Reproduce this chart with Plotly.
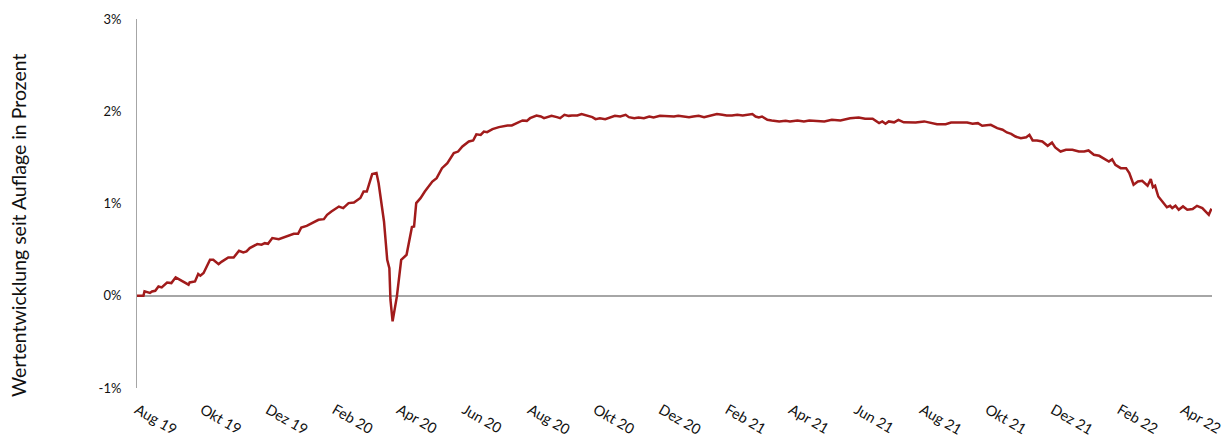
import pandas as pd
import plotly.graph_objects as go

# Inception date of the fund and series (days since inception, performance in %)
start_date = "2019-08-01"
days = [0, 6, 7, 12, 14, 17, 20, 23, 28, 32, 36, 40, 43, 48, 49, 54, 57, 59, 62, 65,
        68, 71, 76, 79, 85, 90, 95, 99, 102, 105, 112, 116, 119, 122, 126, 132, 136, 140,
        146, 150, 153, 158, 163, 169, 174, 177, 181, 188, 192, 197, 202, 208, 211, 214,
        219, 223, 225, 228, 230, 233, 235, 236, 238, 242, 246, 251, 254, 256, 258, 260,
        264, 268, 275, 279, 284, 289, 295, 299, 303, 309, 313, 316, 320, 323, 326, 331,
        337, 345, 349, 352, 359, 363, 366, 372, 376, 379, 383, 386, 391, 394, 398, 402,
        405, 410, 414, 419, 424, 427, 431, 436, 441, 445, 450, 455, 458, 463, 467, 472,
        477, 481, 487, 494, 500, 504, 509, 514, 518, 523, 528, 534, 540, 545, 549, 554,
        559, 564, 568, 573, 576, 579, 582, 587, 591, 598, 604, 608, 615, 621, 626, 632,
        640, 647, 655, 664, 672, 678, 685, 691, 694, 697, 700, 705, 709, 714, 720, 725,
        733, 739, 745, 753, 758, 764, 773, 778, 783, 787, 795, 801, 806, 810, 814, 818,
        823, 828, 831, 834, 838, 843, 848, 852, 855, 860, 865, 871, 877, 882, 886, 891,
        896, 900, 905, 908, 911, 916, 921, 924, 928, 932, 936, 941, 944, 946, 948, 951,
        956, 959, 962, 964, 967, 970, 974, 978, 983, 987, 992, 995, 998, 1000, 1001]
performance = [0.0, 0.0, 0.047, 0.03, 0.047, 0.054, 0.10, 0.09, 0.144, 0.137, 0.20, 0.173,
               0.155, 0.12, 0.144, 0.155, 0.235, 0.217, 0.246, 0.325, 0.39, 0.39, 0.343,
               0.37, 0.415, 0.415, 0.487, 0.47, 0.48, 0.517, 0.56, 0.553, 0.57, 0.563,
               0.625, 0.614, 0.632, 0.65, 0.672, 0.672, 0.74, 0.758, 0.787, 0.823, 0.83,
               0.877, 0.913, 0.967, 0.95, 1.004, 1.01, 1.06, 1.13, 1.13, 1.318, 1.33,
               1.22, 0.967, 0.805, 0.39, 0.30, -0.043, -0.278, -0.007, 0.39, 0.444, 0.625,
               0.744, 0.75, 1.004, 1.058, 1.13, 1.238, 1.275, 1.383, 1.437, 1.546, 1.563,
               1.618, 1.672, 1.683, 1.75, 1.744, 1.78, 1.773, 1.806, 1.828, 1.846, 1.846,
               1.864, 1.90, 1.896, 1.925, 1.954, 1.943, 1.925, 1.936, 1.95, 1.936, 1.925,
               1.961, 1.95, 1.954, 1.954, 1.969, 1.954, 1.936, 1.914, 1.925, 1.914, 1.932,
               1.95, 1.943, 1.961, 1.936, 1.925, 1.932, 1.925, 1.943, 1.932, 1.95, 1.943,
               1.943, 1.95, 1.943, 1.936, 1.943, 1.95, 1.936, 1.95, 1.969, 1.961, 1.954,
               1.954, 1.961, 1.954, 1.961, 1.969, 1.943, 1.932, 1.943, 1.907, 1.90, 1.89,
               1.896, 1.89, 1.90, 1.89, 1.90, 1.896, 1.89, 1.907, 1.90, 1.925, 1.932, 1.918,
               1.918, 1.871, 1.89, 1.864, 1.89, 1.88, 1.907, 1.88, 1.88, 1.878, 1.89, 1.871,
               1.86, 1.86, 1.878, 1.878, 1.878, 1.864, 1.871, 1.842, 1.853, 1.817, 1.80,
               1.77, 1.755, 1.726, 1.707, 1.718, 1.744, 1.683, 1.683, 1.672, 1.625, 1.66,
               1.607, 1.563, 1.582, 1.582, 1.563, 1.563, 1.575, 1.528, 1.517, 1.49, 1.455,
               1.48, 1.42, 1.383, 1.383, 1.33, 1.203, 1.238, 1.246, 1.192, 1.264, 1.177,
               1.192, 1.076, 1.004, 0.96, 0.975, 0.95, 0.975, 0.932, 0.968, 0.932, 0.94,
               0.975, 0.95, 0.913, 0.877, 0.932, 0.925]

tick_dates = ["2019-08-01", "2019-10-01", "2019-12-01", "2020-02-01", "2020-04-01",
              "2020-06-01", "2020-08-01", "2020-10-01", "2020-12-01", "2021-02-01",
              "2021-04-01", "2021-06-01", "2021-08-01", "2021-10-01", "2021-12-01",
              "2022-02-01", "2022-04-01"]
tick_labels = ["Aug 19", "Okt 19", "Dez 19", "Feb 20", "Apr 20", "Jun 20", "Aug 20",
               "Okt 20", "Dez 20", "Feb 21", "Apr 21", "Jun 21", "Aug 21", "Okt 21",
               "Dez 21", "Feb 22", "Apr 22"]
y_ticks = [-1, 0, 1, 2, 3]
y_labels = ["-1%", "0%", "1%", "2%", "3%"]
y_title = "Wertentwicklung seit Auflage in Prozent"

dates = pd.to_datetime(start_date) + pd.to_timedelta(days, unit="D")

FONT = "Lato, 'Open Sans', sans-serif"

fig = go.Figure()
fig.add_trace(go.Scatter(
    x=dates, y=performance, mode="lines",
    line=dict(color="#A11B1B", width=2.5),
    hoverinfo="skip", showlegend=False,
))

fig.update_layout(
    width=1223, height=436, autosize=False,
    margin=dict(l=137, r=11, t=19, b=48, autoexpand=False),
    paper_bgcolor="white", plot_bgcolor="white",
    font=dict(family=FONT, size=12, color="#111111"),
    showlegend=False,
)
fig.update_xaxes(
    range=[dates[0], dates[-1]], automargin=False,
    tickmode="array", tickvals=tick_dates, ticktext=tick_labels,
    tickangle=30, showgrid=False, showline=False, zeroline=False,
    ticks="outside", ticklen=7, tickcolor="rgba(0,0,0,0)",
    ticklabeloverflow="allow",
    tickfont=dict(family=FONT, size=14.5, color="#111111"),
)
fig.update_yaxes(
    range=[-1, 3], automargin=False,
    tickmode="array", tickvals=y_ticks, ticktext=y_labels,
    showgrid=False, showline=True, linecolor="#A6A6A6", linewidth=1,
    zeroline=True, zerolinecolor="#A6A6A6", zerolinewidth=1.5,
    ticks="outside", ticklen=12, tickcolor="rgba(0,0,0,0)",
    tickfont=dict(family=FONT, size=13, color="#111111"),
)
fig.add_annotation(
    text=y_title, textangle=-90,
    xref="paper", yref="paper", x=-0.1107, y=0.4417,
    xanchor="center", yanchor="middle", showarrow=False,
    font=dict(family=FONT, size=19.5, color="#111111"),
)

fig.write_html(
    "out.html",
    config={"displayModeBar": False},
    post_script="document.body.style.margin='0';document.body.style.overflow='hidden';",
)
